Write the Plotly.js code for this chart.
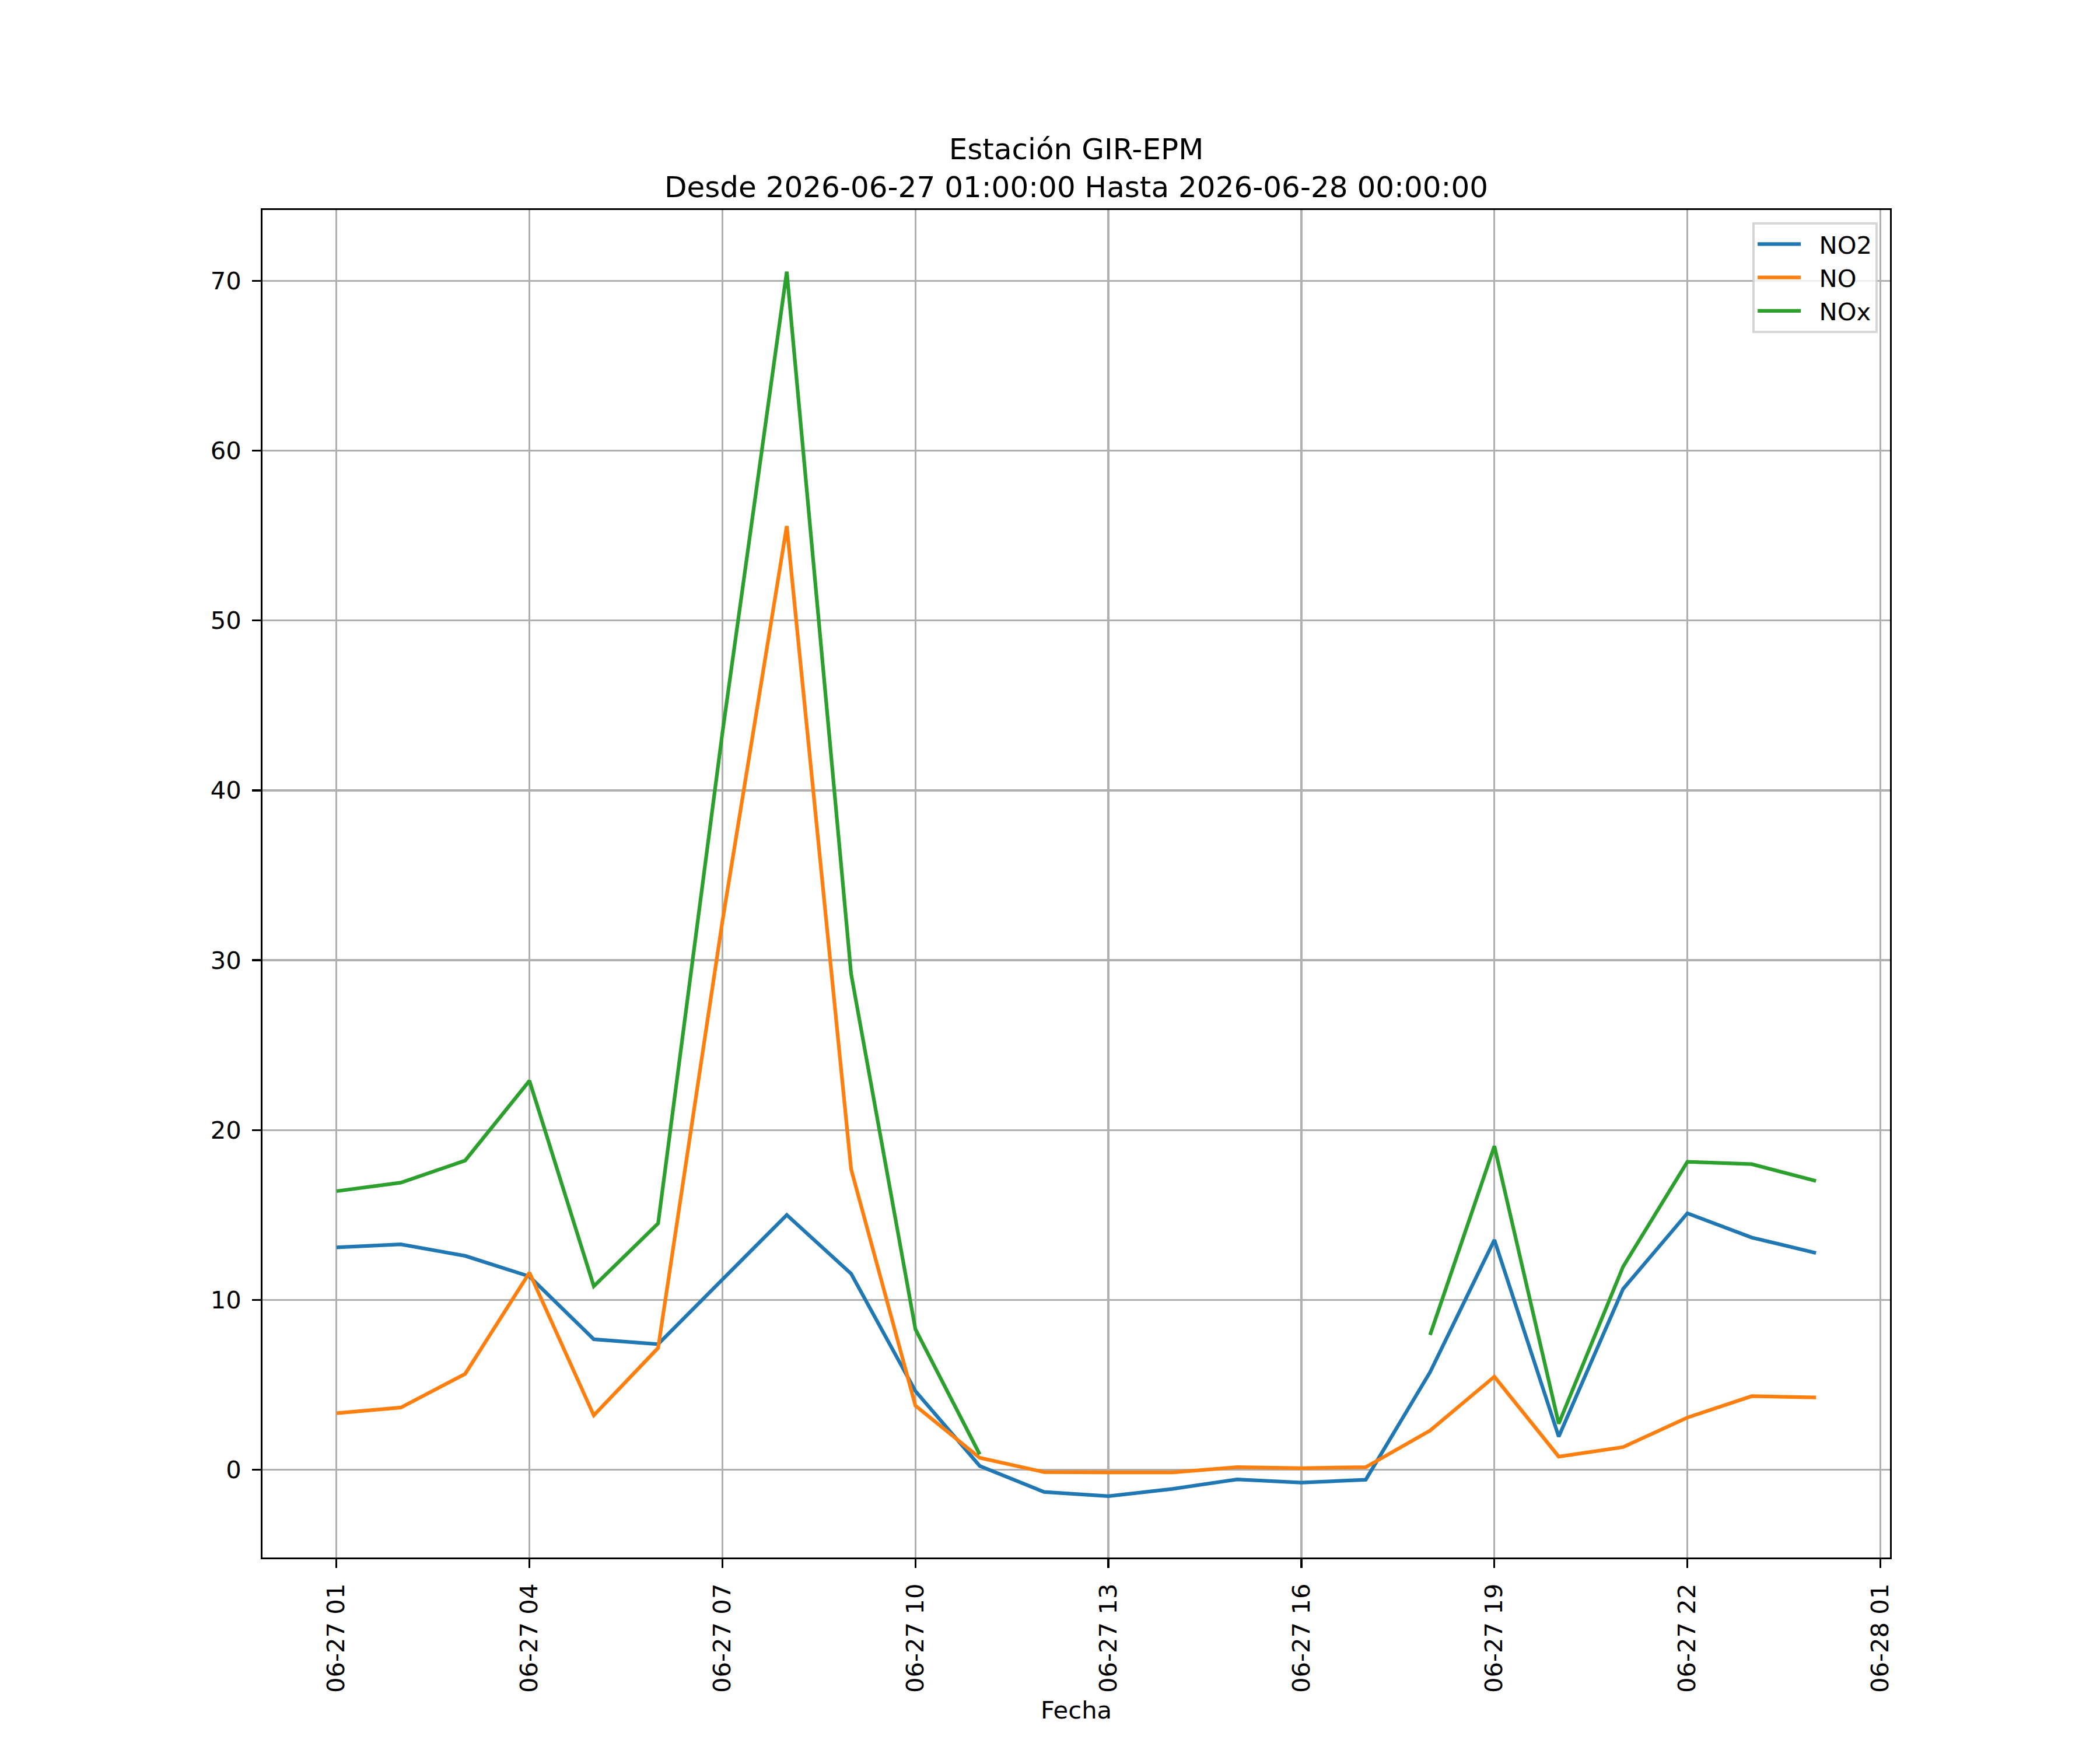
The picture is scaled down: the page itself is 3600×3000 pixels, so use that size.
<!DOCTYPE html>
<html>
<head>
<meta charset="utf-8">
<script src="https://cdn.plot.ly/plotly-3.0.1.min.js"></script>
<style>
  body { margin: 0; background: white; }
</style>
</head>
<body>
<div id="myDiv"></div>
<script>
// hourly readings, 2026-06-27 01:00 .. 2026-06-28 00:00
var fechas = [
  "2026-06-27 01:00", "2026-06-27 02:00", "2026-06-27 03:00", "2026-06-27 04:00",
  "2026-06-27 05:00", "2026-06-27 06:00", "2026-06-27 07:00", "2026-06-27 08:00",
  "2026-06-27 09:00", "2026-06-27 10:00", "2026-06-27 11:00", "2026-06-27 12:00",
  "2026-06-27 13:00", "2026-06-27 14:00", "2026-06-27 15:00", "2026-06-27 16:00",
  "2026-06-27 17:00", "2026-06-27 18:00", "2026-06-27 19:00", "2026-06-27 20:00",
  "2026-06-27 21:00", "2026-06-27 22:00", "2026-06-27 23:00", "2026-06-28 00:00"
];

var no2 = [13.09, 13.27, 12.59, 11.38, 7.68, 7.39, 11.2, 15.0, 11.54, 4.63, 0.22, -1.31,
           -1.56, -1.13, -0.57, -0.76, -0.59, 5.74, 13.53, 1.95, 10.64, 15.1, 13.67, 12.76];
var no = [3.33, 3.66, 5.64, 11.6, 3.2, 7.17, 32.3, 55.56, 17.7, 3.77, 0.7, -0.14,
          -0.16, -0.16, 0.15, 0.09, 0.15, 2.3, 5.48, 0.77, 1.33, 3.07, 4.33, 4.25];
var nox = [16.4, 16.9, 18.2, 22.9, 10.8, 14.5, 43.4, 70.54, 29.2, 8.27, 0.9, null,
           null, null, null, null, null, 7.93, 19.05, 2.71, 11.95, 18.13, 17.99, 17.0];

var fs = 41.7;  // 10pt at 300 dpi
var lw = 6.25;  // 1.5pt
var sp = "\u00a0\u00a0"; // gap between legend line and label

var data = [
  { type: "scatter", mode: "lines", name: sp + "NO2", x: fechas, y: no2,
    line: { color: "#1f77b4", width: lw } },
  { type: "scatter", mode: "lines", name: sp + "NO", x: fechas, y: no,
    line: { color: "#ff7f0e", width: lw } },
  { type: "scatter", mode: "lines", name: sp + "NOx", x: fechas, y: nox,
    line: { color: "#2ca02c", width: lw }, connectgaps: false }
];

var layout = {
  width: 3600,
  height: 3000,
  margin: { l: 450, r: 360, t: 360, b: 330 },
  paper_bgcolor: "white",
  plot_bgcolor: "white",
  font: { family: "DejaVu Sans", size: fs, color: "black" },
  title: {
    text: "Estación GIR-EPM<br>Desde 2026-06-27 01:00:00 Hasta 2026-06-28 00:00:00",
    font: { size: 50, color: "black" },
    xref: "paper", x: 0.5, xanchor: "center",
    yref: "container", y: 0.909, yanchor: "top"
  },
  xaxis: {
    type: "date",
    range: ["2026-06-26 23:51", "2026-06-28 01:09"],
    tick0: "2026-06-27 01:00",
    dtick: 3 * 3600000,
    tickformat: "%m-%d %H",
    tickangle: -90,
    ticks: "outside", ticklen: 14.6, tickwidth: 3.3, tickcolor: "black",
    ticklabelstandoff: 10,
    showgrid: true, gridcolor: "#b0b0b0", gridwidth: 3.3,
    showline: true, linecolor: "black", linewidth: 3.3, mirror: true,
    zeroline: false,
    automargin: false,
    title: { text: "Fecha", font: { size: fs }, standoff: 16 }
  },
  yaxis: {
    range: [-5.17, 74.17],
    tick0: 0, dtick: 10,
    ticks: "outside", ticklen: 14.6, tickwidth: 3.3, tickcolor: "black",
    ticklabelstandoff: 10,
    showgrid: true, gridcolor: "#b0b0b0", gridwidth: 3.3,
    showline: true, linecolor: "black", linewidth: 3.3, mirror: true,
    zeroline: false,
    automargin: false
  },
  showlegend: true,
  legend: {
    x: 0.9925, xanchor: "right",
    y: 0.991, yanchor: "top",
    bgcolor: "rgba(255,255,255,0.8)",
    bordercolor: "rgba(204,204,204,0.8)",
    borderwidth: 4,
    font: { size: fs },
    itemwidth: 74
  }
};

var config = { displayModeBar: false, staticPlot: true };

Plotly.newPlot("myDiv", data, layout, config);
</script>
</body>
</html>
